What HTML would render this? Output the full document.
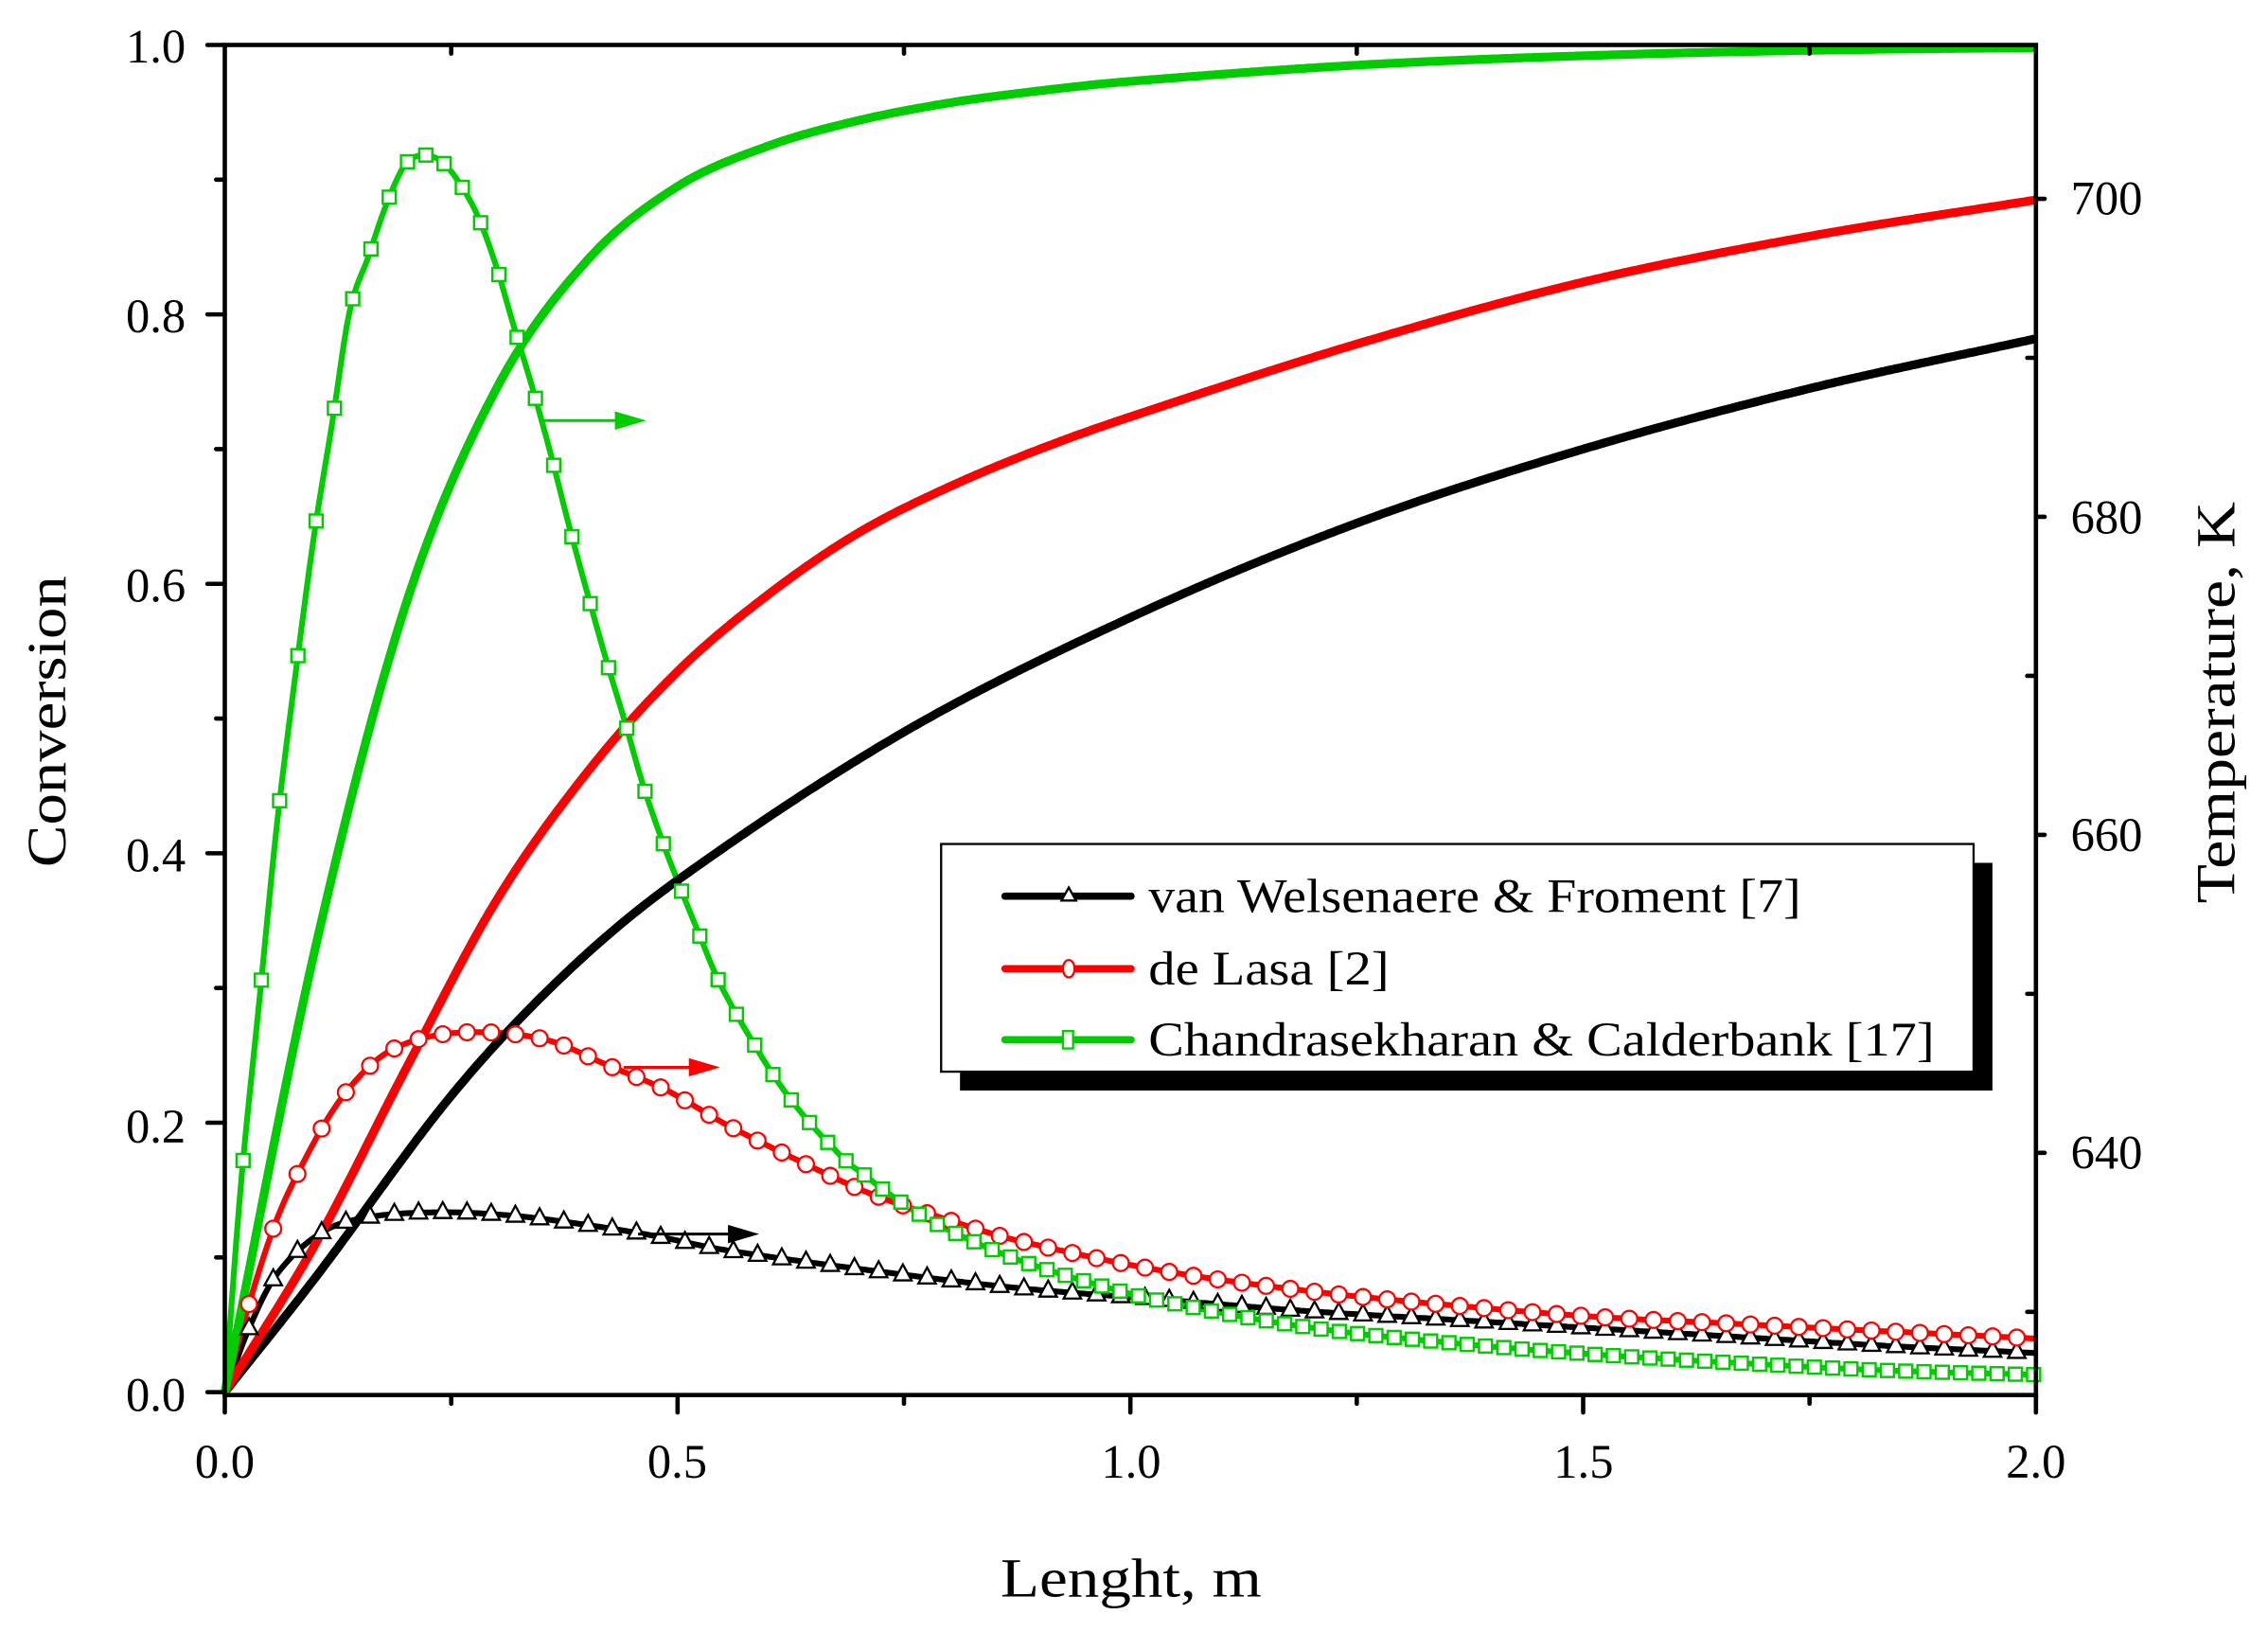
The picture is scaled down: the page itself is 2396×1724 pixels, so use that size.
<!DOCTYPE html>
<html><head><meta charset="utf-8"><style>
html,body{margin:0;padding:0;background:#fff;}
svg{display:block;}
text{font-family:"Liberation Serif",serif;fill:#000;}
</style></head><body>
<svg id="s" width="2396" height="1724" viewBox="0 0 1564 1125.4" xmlns="http://www.w3.org/2000/svg">
<rect width="1564" height="1126" fill="#fff"/>
<g id="curves"></g>
<g fill="none" stroke="#000" stroke-width="3" stroke-linecap="round">
<rect x="155" y="31" width="1249" height="931"/>
<g id="ticks"></g>
</g>
<g font-size="33" text-anchor="end">
<text x="128" y="43">1.0</text><text x="128" y="229">0.8</text><text x="128" y="415">0.6</text>
<text x="128" y="601">0.4</text><text x="128" y="788">0.2</text><text x="128" y="973">0.0</text>
</g>
<g font-size="33" text-anchor="middle">
<text x="155" y="1019">0.0</text><text x="467" y="1019">0.5</text><text x="780" y="1019">1.0</text>
<text x="1092" y="1019">1.5</text><text x="1404" y="1019">2.0</text>
</g>
<g font-size="33" text-anchor="start">
<text x="1428" y="148">700</text><text x="1428" y="368">680</text><text x="1428" y="587">660</text><text x="1428" y="806">640</text>
</g>
<text x="690" y="1101" font-size="38" textLength="180" lengthAdjust="spacingAndGlyphs">Lenght, m</text>
<text transform="translate(45,598) rotate(-90)" font-size="38" textLength="201" lengthAdjust="spacingAndGlyphs">Conversion</text>
<text transform="translate(1541,623) rotate(-90)" font-size="38" textLength="277" lengthAdjust="spacingAndGlyphs">Temperature, K</text>
<g stroke-width="2" fill="none">
<line x1="375" y1="290" x2="440" y2="290" stroke="#00cc00"/><path d="M425,285 L442,290 L425,295 Z" fill="#00cc00" stroke="#00cc00"/>
<line x1="430" y1="736" x2="490" y2="736" stroke="#f00"/><path d="M476,731 L493,736 L476,741 Z" fill="#f00" stroke="#f00"/>
<line x1="440" y1="851" x2="518" y2="851" stroke="#000"/><path d="M503,846 L520,851 L503,856 Z" fill="#000" stroke="#000"/>
</g>
<rect x="662" y="595" width="712" height="157" fill="#000"/>
<rect x="649" y="582" width="712" height="157" fill="#fff" stroke="#000" stroke-width="1.5"/>
<g stroke-width="5" stroke-linecap="round">
<line x1="693" y1="618" x2="780" y2="618" stroke="#000"/>
<line x1="693" y1="668" x2="780" y2="668" stroke="#f00"/>
<line x1="693" y1="717" x2="780" y2="717" stroke="#00cc00"/>
</g>
<path d="M737,612 L732,621 L742,621 Z" fill="#fff" stroke="#000" stroke-width="1.5"/>
<ellipse cx="737" cy="668" rx="4" ry="6" fill="#fff" stroke="#f00" stroke-width="1.5"/>
<rect x="733" y="711" width="7" height="12" fill="#fff" stroke="#00cc00" stroke-width="1.5"/>
<g font-size="33"><text x="792" y="629" textLength="450" lengthAdjust="spacingAndGlyphs">van Welsenaere &amp; Froment [7]</text>
<text x="792" y="679" textLength="166" lengthAdjust="spacingAndGlyphs">de Lasa  [2]</text>
<text x="792" y="728" textLength="542" lengthAdjust="spacingAndGlyphs">Chandrasekharan &amp; Calderbank [17]</text></g>
</svg>
<script>
const NS="http://www.w3.org/2000/svg";
const X=L=>155+L*624.5, Y=v=>960-v*929;
function interp(pts,x){for(let i=0;i<pts.length-1;i++){const a=pts[i],b=pts[i+1];if(x>=a[0]&&x<=b[0]){
 const p0=pts[Math.max(i-1,0)],p3=pts[Math.min(i+2,pts.length-1)];const t=(x-a[0])/(b[0]-a[0]);
 const m1=(b[1]-p0[1])/(b[0]-p0[0])*(b[0]-a[0]),m2=(p3[1]-a[1])/(p3[0]-a[0])*(b[0]-a[0]);
 const t2=t*t,t3=t2*t;return (2*t3-3*t2+1)*a[1]+(t3-2*t2+t)*m1+(-2*t3+3*t2)*b[1]+(t3-t2)*m2;}}return pts[pts.length-1][1];}
function el(t,a){const e=document.createElementNS(NS,t);for(const k in a)e.setAttribute(k,a[k]);document.getElementById('curves').appendChild(e);return e;}
function line(pts,col,w){let d="";for(let x=155;x<=1404;x+=2){d+=(d?"L":"M")+x+","+interp(pts,x).toFixed(1);}el('path',{d:d,fill:'none',stroke:col,'stroke-width':w,'stroke-linejoin':'round'});}
const conv=(arr)=>arr.map(p=>[X(p[0]),Y(p[1])]);
const gT=[[155,962],[166,818],[179,688],[191,568],[204,463],[217,366],[229,292],[241,215],[254,177],[266,142],[279,114],[291,107],[304,111],[316,125],[329,148],[342,183],[354,224],[367,267],[380,314],[392,361],[405,409],[418,455],[431,498],[443,540],[456,578],[469,612],[482,644],[494,673],[507,698],[520,720],[533,741],[546,759],[559,775],[572,789],[584,801],[597,811],[610,821],[635,838],[660,851],[700,868],[750,884],[800,897],[900,915],[1000,926],[1100,934],[1200,940],[1300,945],[1404,948]];
const rT=[[155,962],[170,905],[190,843],[210,800],[230,765],[250,740],[270,724],[300,714],[340,712],[380,718],[420,735],[460,752],[500,775],[550,800],[600,823],[650,840],[700,855],[800,876],[900,890],[1000,900],[1100,908],[1200,913],[1300,918],[1404,923]];
const bT=[[155,962],[170,920],[190,880],[220,851],[250,840],[300,836],[350,838],[400,844],[450,852],[500,862],[600,876],[700,888],[800,896],[900,904],[1000,910],[1100,916],[1200,922],[1300,928],[1404,933]];
line(bT,'#000',4);line(rT,'#f00',4);line(gT,'#00cc00',4);
const bC=conv([[0,0],[0.1,0.085],[0.25,0.22],[0.375,0.31],[0.5,0.38],[0.75,0.49],[1,0.575],[1.25,0.645],[1.5,0.70],[1.75,0.745],[2,0.782]]);
const rC=conv([[0,0],[0.1,0.11],[0.2,0.24],[0.3,0.365],[0.4,0.46],[0.5,0.535],[0.6,0.592],[0.7,0.638],[0.8,0.672],[0.9,0.7],[1,0.724],[1.25,0.778],[1.5,0.824],[1.75,0.858],[2,0.885]]);
const gC=conv([[0,0],[0.1,0.33],[0.2,0.585],[0.3,0.745],[0.4,0.84],[0.5,0.895],[0.6,0.925],[0.7,0.944],[0.8,0.957],[0.9,0.966],[1,0.973],[1.25,0.985],[1.5,0.992],[1.75,0.996],[2,0.998]]);
line(bC,'#000',6);line(rC,'#f00',6);line(gC,'#00cc00',6);
for(let x=155+16.7;x<1404;x+=16.7){const y=interp(bT,x);el('path',{d:`M${x},${y-7} L${x-6},${y+4} L${x+6},${y+4} Z`,fill:'#fff',stroke:'#000','stroke-width':1.5});}
for(let x=155+16.7;x<1404;x+=16.7){const y=interp(rT,x);el('circle',{cx:x,cy:y,r:5.5,fill:'#fff',stroke:'#f00','stroke-width':1.5});}
for(let x=155+12.6;x<1404;x+=12.6){const y=interp(gT,x);el('rect',{x:x-4.5,y:y-4.5,width:9,height:9,fill:'#fff',stroke:'#00cc00','stroke-width':1.6});}
const tk=document.getElementById('ticks');
function tl(x1,y1,x2,y2){const e=document.createElementNS(NS,'line');e.setAttribute('x1',x1);e.setAttribute('y1',y1);e.setAttribute('x2',x2);e.setAttribute('y2',y2);tk.appendChild(e);}
for(let i=0;i<=10;i++){const y=Y(i/10);tl(155,y,i%2?149:143,y);}
for(let i=0;i<=8;i++){const x=X(i*0.25);tl(x,962,x,i%2?968:974);if(i%2)tl(x,31,x,37);}
for(let T=630;T<=710;T+=10){const y=795-(T-640)*10.965;if(y>31&&y<962){tl(1404,y,T%20?1398:1410,y);}}
</script>
</body></html>
